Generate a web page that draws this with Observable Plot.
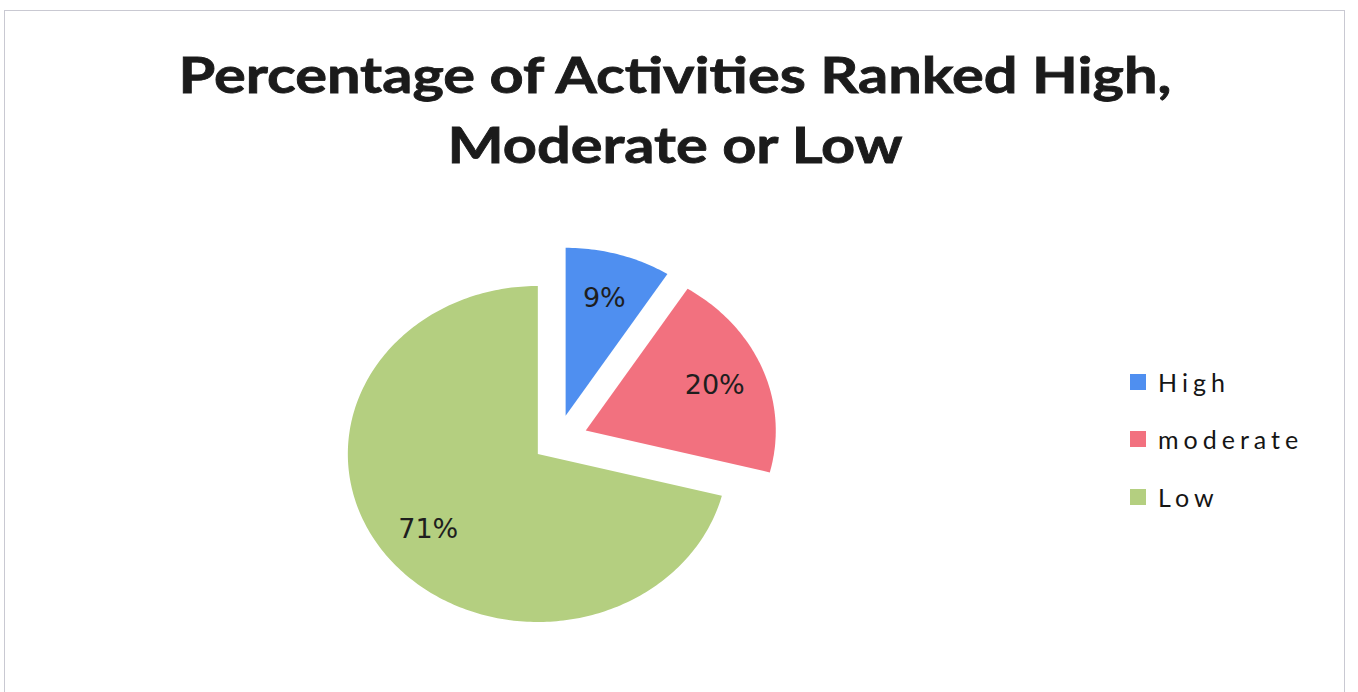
<!DOCTYPE html>
<html>
<head>
<meta charset="utf-8">
<script src="https://cdn.jsdelivr.net/npm/d3@7"></script>
<script src="https://cdn.jsdelivr.net/npm/@observablehq/plot@0.6"></script>
<style>
  html, body { margin: 0; padding: 0; background: #ffffff; }
  #wrap { position: relative; width: 1358px; height: 692px; overflow: hidden; background: #fff; }
  #frame { position: absolute; left: 4px; top: 10px; width: 1341px; height: 700px; border: 1.5px solid #c9c9d2; box-sizing: border-box; }
  #title { position: absolute; left: 0; top: 39px; width: 1350px; text-align: center;
           font-family: Lato, "Open Sans", sans-serif; font-weight: 700; font-size: 50px; line-height: 70px; color: #1b1b1b;
           transform: scaleX(1.19); transform-origin: 675px 0; -webkit-text-stroke: 0.8px #1b1b1b; }
  #chart { position: absolute; left: 0; top: 190px; }
  #legend { position: absolute; left: 1130px; top: 353px; font-family: Lato, sans-serif; font-size: 25px; color: #151515; letter-spacing: 5px; }
  .item { display: flex; align-items: center; height: 57.5px; }
  .sw { width: 16px; height: 16px; margin-right: 12px; }
</style>
</head>
<body>
<div id="wrap">
  <div id="frame"></div>
  <div id="title">Percentage of Activities Ranked High,<br>Moderate or Low</div>
  <div id="chart"></div>
  <div id="legend"></div>
</div>
<script>
// ---- data ----
const categories = ["High", "moderate", "Low"];
const values = [9, 20, 71];
const valueLabels = ["9%", "20%", "71%"];
// ---- styling ----
const colors = ["#4f8ff0", "#f2717f", "#b4cf80"];
const explode = [0.153, 0.16, 0.131];   // in pie-radius units

// layout (pixels)
const W = 1358, H = 470;
const cxPx = 557, cyPx = 440 - 190;    // pie centre inside the svg
const rxPx = 190, ryPx = 168;          // radius horizontally / vertically

const total = d3.sum(values);
const pts = [];
const labelPts = [];
let a0 = 0;
categories.forEach((c, i) => {
  const a1 = a0 + values[i] / total * 2 * Math.PI;
  const mid = (a0 + a1) / 2;
  const ox = explode[i] * Math.sin(mid), oy = explode[i] * Math.cos(mid);
  pts.push({label: c, x: ox, y: oy});
  const n = Math.max(4, Math.ceil((a1 - a0) / (Math.PI / 180)));
  for (let k = 0; k <= n; k++) {
    const a = a0 + (a1 - a0) * k / n;
    pts.push({label: c, x: ox + Math.sin(a), y: oy + Math.cos(a)});
  }
  labelPts.push({label: c, text: valueLabels[i], x: ox + 0.73 * Math.sin(mid), y: oy + 0.73 * Math.cos(mid)});
  a0 = a1;
});

const chart = Plot.plot({
  width: W,
  height: H,
  margin: 0,
  x: {domain: [-cxPx / rxPx, (W - cxPx) / rxPx], range: [0, W], axis: null},
  y: {domain: [-(H - cyPx) / ryPx, cyPx / ryPx], range: [H, 0], axis: null},
  color: {domain: categories, range: colors},
  marks: [
    Plot.line(pts, {x: "x", y: "y", z: "label", fill: "label", stroke: "none", curve: "linear-closed"}),
    Plot.text(labelPts, {x: "x", y: "y", text: "text", fill: "#1e1e1e", fontSize: 27,
      fontFamily: "DejaVu Sans, Verdana, sans-serif"})
  ]
});
document.getElementById("chart").appendChild(chart);

const legend = document.getElementById("legend");
categories.forEach((c, i) => {
  const item = document.createElement("div");
  item.className = "item";
  const sw = document.createElement("div");
  sw.className = "sw";
  sw.style.background = colors[i];
  const t = document.createElement("span");
  t.textContent = c;
  item.appendChild(sw);
  item.appendChild(t);
  legend.appendChild(item);
});
</script>
</body>
</html>
